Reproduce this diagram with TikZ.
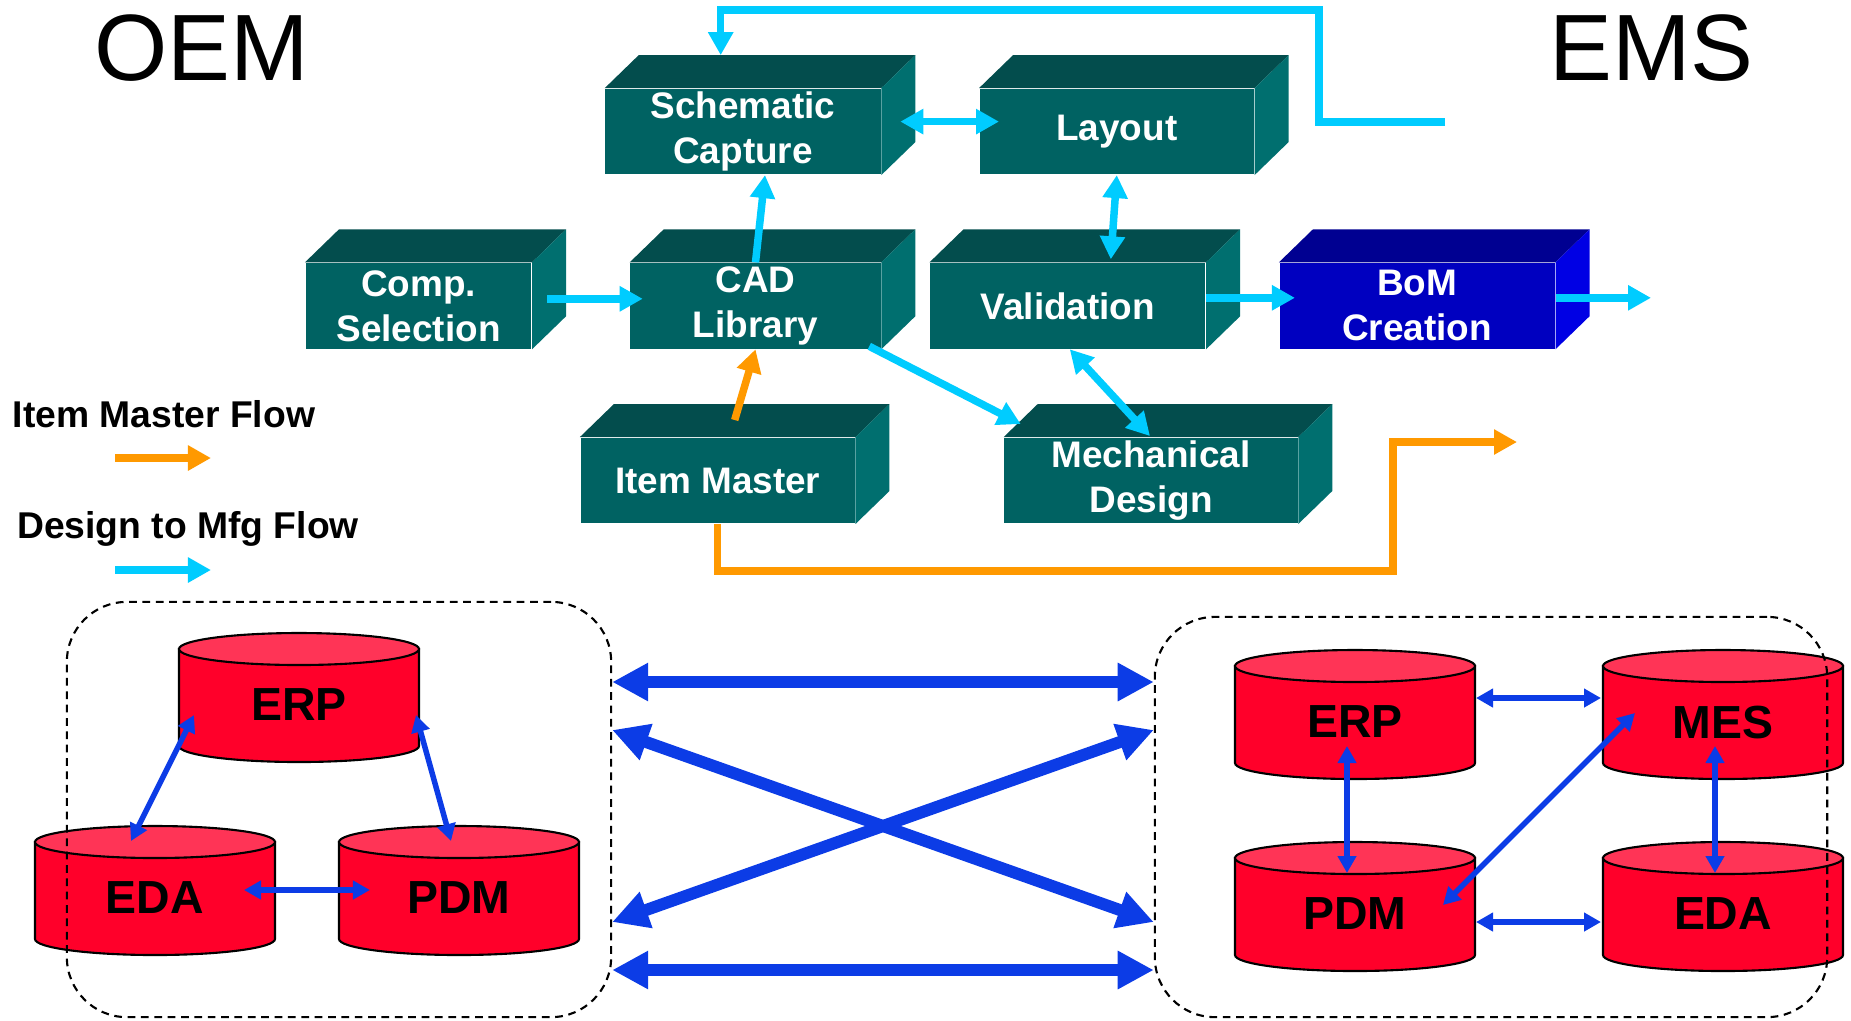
\documentclass[tikz,border=0pt]{standalone}
\usepackage{fontspec}
\setmainfont{Liberation Sans}
\usetikzlibrary{arrows.meta,calc}

\definecolor{tealfront}{RGB}{0,98,98}
\definecolor{tealtop}{RGB}{3,77,77}
\definecolor{tealside}{RGB}{0,111,111}
\definecolor{bomfront}{RGB}{0,0,192}
\definecolor{bomtop}{RGB}{0,0,145}
\definecolor{bomside}{RGB}{0,0,228}
\definecolor{flowcyan}{RGB}{0,204,255}
\definecolor{floworange}{RGB}{255,153,0}
\definecolor{linkblue}{RGB}{12,60,230}
\definecolor{dbred}{RGB}{255,0,42}
\definecolor{dbtop}{RGB}{255,52,86}

\begin{document}
\begin{tikzpicture}[x=0.01cm,y=-0.01cm,
  block/.style={fill=tealfront,text=white,font=\fontsize{10.5}{12.8}\selectfont\bfseries,align=center,minimum height=0.855cm,inner sep=0pt},
  legend/.style={font=\fontsize{10.6}{12.8}\selectfont\bfseries,inner sep=0pt,anchor=west},
  dbtext/.style={font=\fontsize{13.2}{16}\selectfont\bfseries,inner sep=0pt},
  grpbox/.style={draw,dash pattern=on 2.2pt off 1.6pt,rounded corners=0.6cm,line width=0.6pt,inner sep=0pt},
  cyanflow/.style={line width=0.075cm,draw=flowcyan,>={Triangle[length=0.23cm,width=0.24cm]}},
  orangeflow/.style={line width=0.075cm,draw=floworange,>={Triangle[length=0.23cm,width=0.24cm]}},
  dblink/.style={line width=0.055cm,draw=linkblue,>={Triangle[length=0.17cm,width=0.18cm]}},
  biglink/.style={line width=0.12cm,draw=linkblue,>={Triangle[length=0.36cm,width=0.36cm]}}]
\useasboundingbox (0,0) rectangle (1851,1020);

\node[font=\fontsize{26.8}{32}\selectfont,inner sep=0pt] (oem) at (202,48) {OEM};
\node[font=\fontsize{26.8}{32}\selectfont,inner sep=0pt] (ems) at (1651.5,48) {EMS};

\node[block,minimum width=2.75cm] (sch) at (743,131.6) {Schematic\\Capture};
\node[block,minimum width=2.74cm] (lay) at (1116.8,131.6) {Layout};
\node[block,minimum width=2.255cm] (comp) at (418.5,305.8) {Comp.\\Selection};
\node[block,minimum width=2.5cm] (cad) at (755.5,305.8) {CAD\\Library};
\node[block,minimum width=2.75cm] (val) at (1067.8,305.8) {Validation};
\node[block,fill=bomfront,minimum width=2.75cm] (bom) at (1417.2,305.8) {BoM\\Creation};
\node[block,minimum width=2.74cm] (item) at (717.7,480.5) {Item Master};
\node[block,minimum width=2.93cm] (mech) at (1151,480.5) {Mechanical\\Design};

\foreach \n/\ftop/\fside in {sch/tealtop/tealside,lay/tealtop/tealside,comp/tealtop/tealside,cad/tealtop/tealside,val/tealtop/tealside,bom/bomtop/bomside,item/tealtop/tealside,mech/tealtop/tealside}{
  \fill[\ftop] (\n.north west) -- ++(34,-33) -- ($(\n.north east)+(34,-33)$) -- (\n.north east) -- cycle;
  \fill[\fside] (\n.north east) -- ++(34,-33) -- ($(\n.south east)+(34,-33)$) -- (\n.south east) -- cycle;
}

\node[legend] (imf) at (12,414.5) {Item Master Flow};
\node[legend] (dmf) at (16.5,529) {Design to Mfg Flow};
\coordinate (imfarrow) at (115,458);
\coordinate (dmfarrow) at (115,570);
\draw[orangeflow,->] (imfarrow) -- ++(96,0);
\draw[cyanflow,->] (dmfarrow) -- ++(96,0);

\coordinate (loopin) at (1445,122);
\coordinate (bomout) at (1651,297.8);
\coordinate (itemout) at (1517,442);
\draw[cyanflow,<->] ($(sch.east)+(19,-10)$) -- ($(lay.west)+(20,-10)$);
\draw[cyanflow,->] (cad.north) -- ($(sch.south)+(22,0)$);
\draw[cyanflow,<->] (lay.south) -- ($(val.north)+(43,-3)$);
\draw[cyanflow,->] ($(comp.east)+(15,-7)$) -- ($(cad.west)+(13,-7)$);
\draw[cyanflow,->] ($(val.east)+(0,-8)$) -- ($(bom.west)+(16,-8)$);
\draw[cyanflow,->] ($(bom.east)+(0,-8)$) -- (bomout);
\draw[cyanflow,->] ($(cad.south east)+(-12,-3)$) -- ($(mech.north west)+(17,-13)$);
\draw[cyanflow,<->] ($(val.south)+(2,0)$) -- ($(mech.north)+(-1,-1)$);
\draw[cyanflow,->] (loopin) -| (1319,10) -| ($(sch.north west)+(116,-33)$);
\draw[orangeflow,->] ($(item.north)+(17,-17)$) -- (cad.south);
\draw[orangeflow,->] (item.south) -- ++(0,47) -| (1393,442) -- (itemout);

\foreach \n/\x/\y/\lbl in {oerp/299/649/ERP,oeda/155/842/EDA,opdm/459/842/PDM,eerp/1355/666/ERP,emes/1723/666/MES,epdm/1355/858/PDM,eeda/1723/858/EDA}{
  \filldraw[fill=dbred,draw=black,line width=0.6pt] (\x-120,\y) -- (\x-120,\y+97) arc[start angle=180,end angle=0,x radius=120,y radius=16] -- (\x+120,\y) -- cycle;
  \filldraw[fill=dbtop,draw=black,line width=0.6pt] (\x,\y) ellipse[x radius=120,y radius=16];
  \node[dbtext] (\n) at (\x,\y+56) {\lbl};
}

\node[grpbox,minimum width=5.44cm,minimum height=4.15cm] (oembox) at (339,809.5) {};
\node[grpbox,minimum width=6.72cm,minimum height=4cm] (emsbox) at (1491,817) {};

\draw[biglink,<->] (oembox.east |- 0,682) -- (emsbox.west |- 0,682);
\draw[biglink,<->] (oembox.east |- 0,730) -- (emsbox.west |- 0,922);
\draw[biglink,<->] (oembox.east |- 0,922) -- (emsbox.west |- 0,730);
\draw[biglink,<->] (oembox.east |- 0,970) -- (emsbox.west |- 0,970);

\draw[dblink,<->] ($(oerp)+(-105,10)$) -- ($(oeda)+(-24,-57)$);
\draw[dblink,<->] ($(oerp)+(117,10)$) -- ($(opdm)+(-8,-57)$);
\draw[dblink,<->] ($(oeda)+(89,-8)$) -- ($(opdm)+(-89,-8)$);
\draw[dblink,<->] ($(eerp)+(121,-24)$) -- ($(emes)+(-122,-24)$);
\draw[dblink,<->] ($(epdm)+(121,8)$) -- ($(eeda)+(-122,8)$);
\draw[dblink,<->] ($(eerp)+(-8,24)$) -- ($(epdm)+(-8,-41)$);
\draw[dblink,<->] ($(emes)+(-8,24)$) -- ($(eeda)+(-8,-41)$);
\draw[dblink,<->] ($(epdm)+(88,-9)$) -- ($(emes)+(-88,-9)$);
\end{tikzpicture}
\end{document}
